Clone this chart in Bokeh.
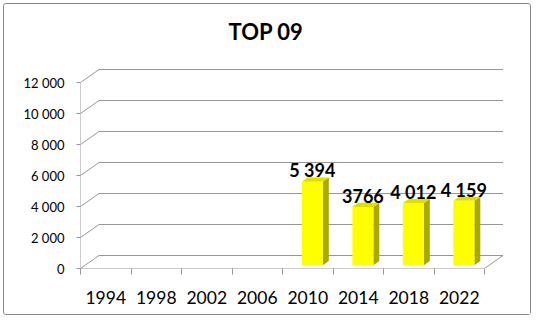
from bokeh.plotting import figure
from bokeh.models import FixedTicker, Range1d
from bokeh.embed import file_html
from bokeh.resources import INLINE

# ---- data ----
categories = ["1994", "1998", "2002", "2006", "2010", "2014", "2018", "2022"]
values = [None, None, None, None, 5394, 3766, 4012, 4159]
value_labels = [None, None, None, None, "5 394", "3766", "4 012", "4 159"]
y_ticks = [0, 2000, 4000, 6000, 8000, 10000, 12000]
y_tick_labels = ["0", "2 000", "4 000", "6 000", "8 000", "10 000", "12 000"]
title_text = "TOP 09"

# ---- layout / style constants ----
W, H = 528, 312
ML, MR, MT, MB = 76, 27, 51, 48
X_PX = 50.5              # pixels per category
Y_PX = 186 / 12000       # pixels per unit
DX_PX, DY_PX = 18.5, 13  # 3D depth offset of back wall
frame_w = W - ML - MR
frame_h = H - MT - MB
n = len(categories)
ddx = DX_PX / X_PX
ddy = DY_PX / Y_PX
f0 = 0.25       # bar front depth fraction
depth = 0.32    # bar depth fraction
bw = 21 / X_PX  # bar width

FONT = "Lato"
GRID = "#979797"
FRONT = "#FFFF00"
SIDE = "#A9A900"
TOP = "#DEDE00"

p = figure(width=W, height=H,
           x_range=Range1d(0, frame_w / X_PX),
           y_range=Range1d(0, frame_h / Y_PX),
           output_backend="svg", toolbar_location=None,
           min_border_left=ML, min_border_right=MR,
           min_border_top=MT, min_border_bottom=MB)
p.styles = {"margin-left": "3px", "margin-top": "3px",
            "border": "1px solid #868686", "border-radius": "3px"}
p.outline_line_color = None
p.xgrid.visible = False
p.ygrid.visible = False
p.background_fill_color = "white"
p.border_fill_color = "white"

# title
p.title.text = title_text
p.title.align = "left"
p.title.offset = 148
p.title.standoff = 21
p.title.text_font = FONT
p.title.text_font_style = "bold"
p.title.text_font_size = "22px"
p.title.text_color = "black"

# ---- y axis ----
ya = p.yaxis[0]
ya.ticker = FixedTicker(ticks=y_ticks)
ya.major_label_overrides = {t: l for t, l in zip(y_ticks, y_tick_labels)}
ya.axis_line_color = None
ya.major_tick_in = 0
ya.major_tick_out = 4
ya.major_tick_line_color = GRID
ya.minor_tick_line_color = None
ya.major_label_standoff = 12
ya.major_label_text_font = FONT
ya.major_label_text_font_size = "13px"
ya.major_label_text_color = "black"

# ---- x axis ----
centers = [i + 0.5 for i in range(n)]
xa = p.xaxis[0]
xa.ticker = FixedTicker(ticks=centers, minor_ticks=list(range(n + 1)))
xa.major_label_overrides = {c: cat for c, cat in zip(centers, categories)}
xa.axis_line_color = None
xa.major_tick_in = 0
xa.major_tick_out = 0
xa.minor_tick_in = 0
xa.minor_tick_out = 6
xa.minor_tick_line_color = GRID
xa.major_label_standoff = 16
xa.major_label_text_font = FONT
xa.major_label_text_font_size = "17.5px"
xa.major_label_text_color = "black"

# ---- back wall gridlines with 3D diagonals ----
x0s, y0s, x1s, y1s = [], [], [], []
for v in y_ticks:
    x0s += [0, ddx]
    y0s += [v, v + ddy]
    x1s += [ddx, n + ddx]
    y1s += [v + ddy, v + ddy]
# floor front edge, floor right edge, front vertical axis
x0s += [0, n, 0]
y0s += [0, 0, 0]
x1s += [n, n + ddx, 0]
y1s += [0, ddy, y_ticks[-1]]
p.segment(x0=x0s, y0=y0s, x1=x1s, y1=y1s, line_color=GRID, line_width=1)

# ---- 3D bars ----
side_xs, side_ys, top_xs, top_ys = [], [], [], []
fx, fb, ft = [], [], []
lx, ly, lt = [], [], []
for i, (v, lab) in enumerate(zip(values, value_labels)):
    if v is None:
        continue
    xl = centers[i] - bw / 2 + f0 * ddx
    xr = centers[i] + bw / 2 + f0 * ddx
    yb = f0 * ddy
    yt = v + f0 * ddy
    ox, oy = depth * ddx, depth * ddy
    side_xs.append([xr, xr + ox, xr + ox, xr])
    side_ys.append([yb, yb + oy, yt + oy, yt])
    top_xs.append([xl, xr, xr + ox, xl + ox])
    top_ys.append([yt, yt, yt + oy, yt + oy])
    fx.append(centers[i] + f0 * ddx)
    fb.append(yb)
    ft.append(yt)
    lx.append(centers[i] + f0 * ddx)
    ly.append(yt + oy)
    lt.append(lab)

p.patches(xs=side_xs, ys=side_ys, fill_color=SIDE, line_color=None)
p.patches(xs=top_xs, ys=top_ys, fill_color=TOP, line_color=None)
p.vbar(x=fx, bottom=fb, top=ft, width=bw, fill_color=FRONT, line_color=None)

p.text(x=lx, y=ly, text=lt, text_align="center", text_baseline="alphabetic",
       y_offset=-7, text_font={"value": FONT}, text_font_style="bold",
       text_font_size="18px", text_color="black")

open("out.html", "w").write(file_html(p, INLINE))
